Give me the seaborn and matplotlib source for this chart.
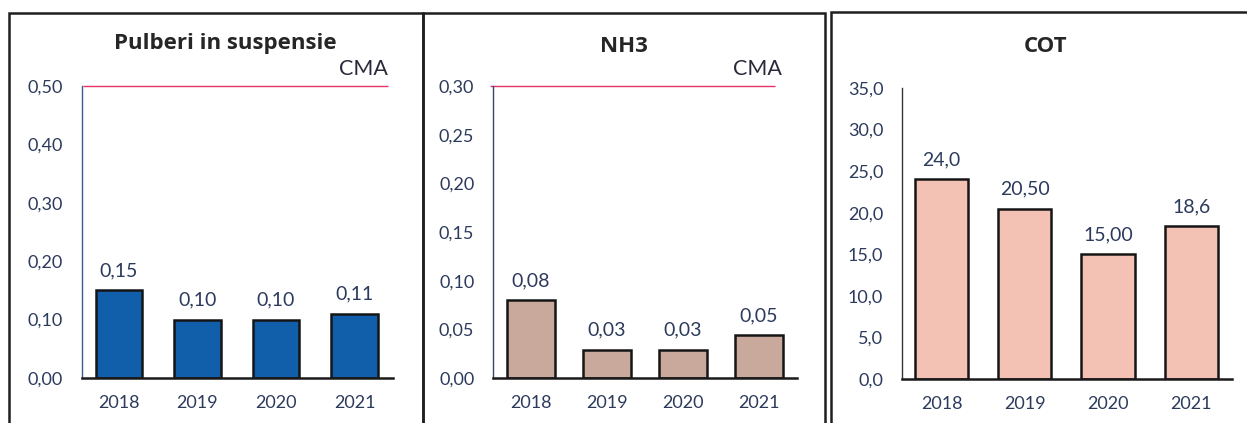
import matplotlib
matplotlib.use("Agg")
import matplotlib.pyplot as plt
from matplotlib.ticker import FuncFormatter, MultipleLocator
from matplotlib.patches import Rectangle
import seaborn as sns
import pandas as pd

# ---- data ----
years = ["2018", "2019", "2020", "2021"]
pulberi = [0.15, 0.10, 0.10, 0.11]
pulberi_labels = ["0,15", "0,10", "0,10", "0,11"]
nh3 = [0.08, 0.029, 0.029, 0.044]
nh3_labels = ["0,08", "0,03", "0,03", "0,05"]
cot = [24.0, 20.5, 15.0, 18.4]
cot_labels = ["24,0", "20,50", "15,00", "18,6"]
titles = ["Pulberi in suspensie", "NH3", "COT"]
cma_values = [0.50, 0.30, None]
ymax = [0.50, 0.30, 35.0]
ystep = [0.10, 0.05, 5.0]
ydec = [2, 2, 1]

sns.set_theme(style="white")
plt.rcParams["font.family"] = ["Lato", "DejaVu Sans"]

W, H = 1247, 423
fig = plt.figure(figsize=(W / 100, H / 100), dpi=100)
fig.patch.set_facecolor("white")

def rect(l, r, t, b):
    return [l / W, 1 - b / H, (r - l) / W, (b - t) / H]

tick_color = "#2c3a5c"
title_color = "#262626"

panels = [
    dict(vals=pulberi, labels=pulberi_labels, color="#115fab", pos=rect(82, 393, 86, 378),
         xlim=(-0.471, 3.49), width=0.59, cma_x=(-0.46, 3.43), cma_txt_x=3.43,
         title_xy=(225, 44), spine_color="#3d5a8c"),
    dict(vals=nh3, labels=nh3_labels, color="#c8a99c", pos=rect(493, 797, 86, 378),
         xlim=(-0.5, 3.5), width=0.63, cma_x=(-0.54, 3.21), cma_txt_x=3.30,
         title_xy=(624, 46), spine_color="#3a4670"),
    dict(vals=cot, labels=cot_labels, color="#f4c1b5", pos=rect(902, 1232, 88, 379),
         xlim=(-0.475, 3.49), width=0.64, cma_x=None, cma_txt_x=None,
         title_xy=(1046, 47), spine_color="#333333"),
]

for i, p in enumerate(panels):
    ax = fig.add_axes(p["pos"])
    df = pd.DataFrame({"year": years, "value": p["vals"]})
    sns.barplot(data=df, x="year", y="value", ax=ax, color=p["color"], width=p["width"],
                edgecolor="#151515", linewidth=1.8, saturation=1)
    ax.set_xlim(*p["xlim"])
    ax.set_ylim(0, ymax[i])
    ax.yaxis.set_major_locator(MultipleLocator(ystep[i]))
    d = ydec[i]
    ax.yaxis.set_major_formatter(FuncFormatter(lambda v, pos, d=d: f"{v:.{d}f}".replace(".", ",")))
    ax.set_xlabel("")
    ax.set_ylabel("")
    ax.tick_params(axis="both", length=0, labelsize=13, colors=tick_color)
    ax.tick_params(axis="y", pad=13.5)
    ax.tick_params(axis="x", pad=12)
    for s in ["top", "right"]:
        ax.spines[s].set_visible(False)
    ax.spines["left"].set_color(p["spine_color"])
    ax.spines["left"].set_linewidth(1.0)
    ax.spines["bottom"].set_color("#1a1a1a")
    ax.spines["bottom"].set_linewidth(1.8)
    ax.set_facecolor("white")
    ax.grid(False)
    ax.bar_label(ax.containers[0], labels=p["labels"], padding=8, fontsize=14, color=tick_color)
    if cma_values[i] is not None:
        ax.hlines(cma_values[i], p["cma_x"][0], p["cma_x"][1], color="#e8306a", linewidth=1.0,
                  clip_on=False)
        ax.annotate("CMA", xy=(p["cma_txt_x"], cma_values[i]), xytext=(0, 17),
                    textcoords="offset pixels", ha="right", va="center", fontsize=15.5,
                    color="#2a2a3a", annotation_clip=False)
    fig.text(p["title_xy"][0] / W, 1 - p["title_xy"][1] / H, titles[i], ha="center", va="center",
             fontsize=16, fontweight="bold", color=title_color, family=["Open Sans", "DejaVu Sans"])

# panel frames
frames = [(9, 423, 13), (423, 825, 13), (831, 1260, 12)]
for l, r, t in frames:
    fig.patches.append(Rectangle((l / W, -0.05), (r - l) / W, (1 - t / H) + 0.05,
                                 transform=fig.transFigure, fill=False,
                                 edgecolor="#1e1e1e", linewidth=1.8, clip_on=False))

fig.savefig("out.png", dpi=100)
